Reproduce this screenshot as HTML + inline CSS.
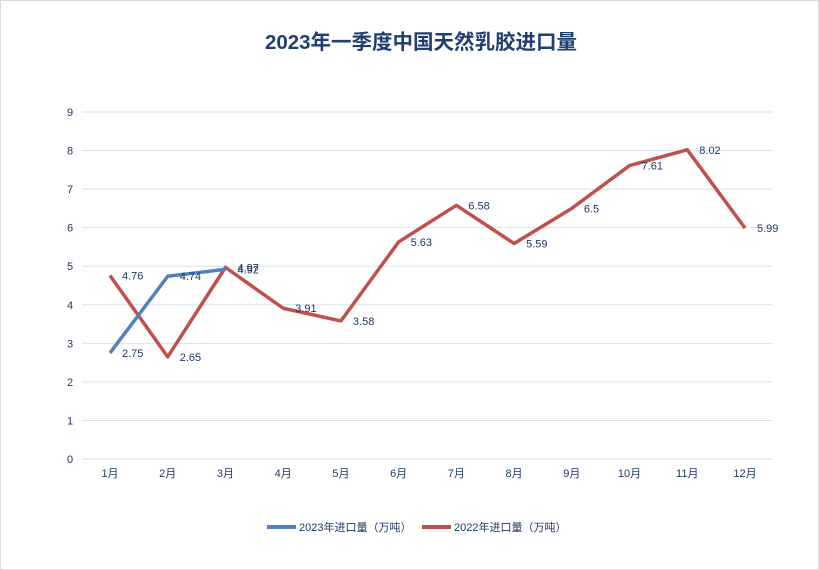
<!DOCTYPE html>
<html><head><meta charset="utf-8"><style>
body{margin:0;background:#fff;}
svg{display:block;font-family:"Liberation Sans","Noto Sans CJK SC",sans-serif;}
</style></head><body>
<svg id="chart" width="819" height="570">
<rect x="0.5" y="0.5" width="818" height="569" fill="#fff" stroke="#d9d9d9"/>
<text x="421" y="49" text-anchor="middle" font-size="20.5" font-weight="bold" fill="#1f3f70" font-family="'Liberation Sans','Noto Sans CJK SC',sans-serif">2023年一季度中国天然乳胶进口量</text>
<g id="grid"></g><g id="series"></g>
<g>
<line x1="267" y1="527" x2="296" y2="527" stroke="#4f81bd" stroke-width="4"/>
<text x="299" y="531" font-size="11" fill="#1f3864">2023年进口量（万吨）</text>
<line x1="422" y1="527" x2="451" y2="527" stroke="#c0504d" stroke-width="4"/>
<text x="454" y="531" font-size="11" fill="#1f3864">2022年进口量（万吨）</text>
</g>
</svg>
<script>
const categories=["1月","2月","3月","4月","5月","6月","7月","8月","9月","10月","11月","12月"];
const series2023=[2.75,4.74,4.92];
const series2022=[4.76,2.65,4.97,3.91,3.58,5.63,6.58,5.59,6.5,7.61,8.02,5.99];
const yTicks=[0,1,2,3,4,5,6,7,8,9];
const NS="http://www.w3.org/2000/svg";
const x0=110,dx=(745-110)/11,y0=459,yTop=112,yMax=9;
function xS(i){return x0+i*dx;}
function yS(v){return y0-(y0-yTop)*v/yMax;}
function mk(tag,attrs,parent){const e=document.createElementNS(NS,tag);for(const k in attrs)e.setAttribute(k,attrs[k]);parent.appendChild(e);return e;}
const grid=document.getElementById('grid'),ser=document.getElementById('series');
yTicks.forEach(t=>{
 const l=mk('line',{x1:82,x2:773,y1:yS(t),y2:yS(t),stroke:'#d6e2f0','stroke-width':1},grid);
 
 
 const tx=mk('text',{x:70,y:yS(t)+4,'font-size':11,fill:'#1f3864','text-anchor':'middle'},grid);
 tx.textContent=t;
 
 
});
categories.forEach((c,i)=>{
 const tx=mk('text',{x:xS(i),y:477,'font-size':11,fill:'#1f3864','text-anchor':'middle'},grid);
 tx.textContent=c;
 
 
});
function draw(vals,color,name){
 const p=mk('polyline',{points:vals.map((v,i)=>xS(i)+','+yS(v)).join(' '),fill:'none',stroke:color,'stroke-width':3.5,'stroke-linejoin':'round'},ser);
 
 
 vals.forEach((v,i)=>{
  const t=mk('text',{x:xS(i)+12,y:yS(v)+4,'font-size':11,fill:'#1f3864'},ser);
  t.textContent=v;
  
  
 });
}
draw(series2022,'#c0504d','series-2022');
draw(series2023,'#4f81bd','series-2023');
</script>
</body></html>
